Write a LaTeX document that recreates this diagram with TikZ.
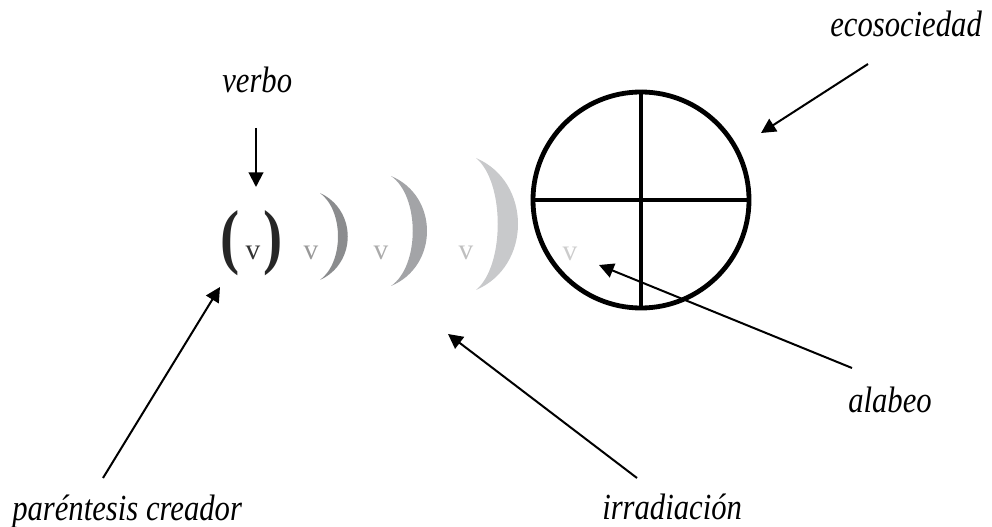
\documentclass[tikz,border=0pt]{standalone}
\usepackage{fontspec}
\setmainfont{Liberation Serif}[ItalicFont={Liberation Serif Italic},BoldFont={Liberation Serif Bold}]
\usetikzlibrary{arrows.meta}
\definecolor{cresA}{HTML}{8B8C8E}
\definecolor{cresB}{HTML}{A3A4A7}
\definecolor{cresC}{HTML}{C8C9CB}
\begin{document}
\begin{tikzpicture}[x=0.75pt,y=-0.75pt,
  lab/.style={font=\fontsize{23}{23}\selectfont\itshape, inner sep=0pt, anchor=base west},
  vv/.style={font=\fontsize{22}{22}\selectfont, inner sep=0pt, anchor=base},
  par/.style={font=\fontsize{54}{54}\selectfont\bfseries, inner sep=0pt, text=black!85},
  arr/.style={line width=1.5pt, -{Triangle[length=11pt,width=11pt]}},
  ring/.style={line width=3.6pt},
]
\path[use as bounding box] (0,0) rectangle (992,527);

% labels
\node[lab] (verbo) at (222,93) {\scalebox{1}[1.2]{verbo}};
\node[lab] (eco) at (830,37) {\scalebox{1}[1.2]{ecosociedad}};
\node[lab] (alabeo) at (848,412) {\scalebox{1}[1.2]{alabeo}};
\node[lab] (paren) at (12,520) {\scalebox{1}[1.2]{paréntesis creador}};
\node[lab] (irr) at (602,519) {\scalebox{1}[1.2]{irradiación}};

% parentheses and v's
\node[par] (lp) at (230,243) {\scalebox{0.8}[1]{(}};
\node[par] (rp) at (273,243) {\scalebox{0.8}[1]{)}};
\node[vv, text=black!80] (v1) at (253,260) {v};
\node[vv, text=black!40] (v2) at (311,260) {v};
\node[vv, text=black!33] (v3) at (381,260) {v};
\node[vv, text=black!25] (v4) at (466,260) {v};
\node[vv, text=black!20] (v5) at (570,261) {v};

% crescents
\fill[cresA] (320,193) .. controls (357,210) and (357,263) .. (320,280)
  .. controls (344,262) and (344,211) .. cycle;
\fill[cresB] (391,176) .. controls (439,196) and (439,266) .. (391,286)
  .. controls (420,266) and (420,196) .. cycle;
\fill[cresC] (476,158) .. controls (532,182) and (532,266) .. (476,290)
  .. controls (505,266) and (505,182) .. cycle;

% circle
\node[circle, draw, ring, minimum size=216*0.75pt, inner sep=0pt] (eco c) at (641,200) {};
\draw[ring] (eco c.west) -- (eco c.east);
\draw[ring] (eco c.north) -- (eco c.south);

% arrow coordinates
\coordinate (verbo s) at (256,128);
\coordinate (verbo t) at (256,187);
\coordinate (eco s) at (868,64);
\coordinate (eco t) at (761,133);
\coordinate (alabeo s) at (852,368);
\coordinate (alabeo t) at (599,265);
\coordinate (paren s) at (103,478);
\coordinate (paren t) at (220,287);
\coordinate (irr s) at (637,478);
\coordinate (irr t) at (448,334);

\draw[arr] (verbo s) -- (verbo t);
\draw[arr] (eco s) -- (eco t);
\draw[arr] (alabeo s) -- (alabeo t);
\draw[arr] (paren s) -- (paren t);
\draw[arr] (irr s) -- (irr t);
\end{tikzpicture}
\end{document}
